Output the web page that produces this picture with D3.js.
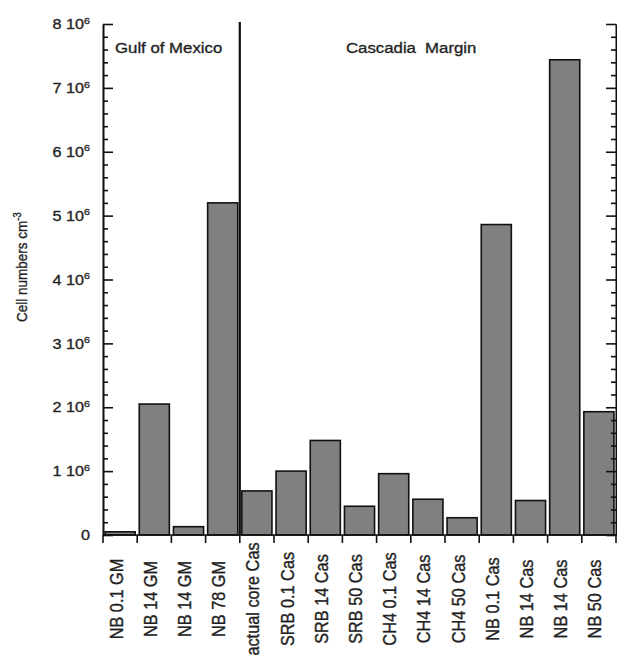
<!DOCTYPE html>
<html>
<head>
<meta charset="utf-8">
<script src="https://cdn.jsdelivr.net/npm/d3@7"></script>
<style>
  html, body { margin: 0; padding: 0; background: #fff; }
  svg { display: block; }
  text { stroke: #2a2a2a; stroke-width: 0.35px; }
</style>
</head>
<body>
<script>
const categories = ["NB 0.1 GM","NB 14 GM","NB 14 GM","NB 78 GM","actual core Cas","SRB 0.1 Cas","SRB 14 Cas","SRB 50 Cas","CH4 0.1 Cas","CH4 14 Cas","CH4 50 Cas","NB 0.1 Cas","NB 14 Cas","NB 14 Cas","NB 50 Cas"];
const values = [0.05e6, 2.05e6, 0.13e6, 5.2e6, 0.69e6, 1.0e6, 1.48e6, 0.45e6, 0.96e6, 0.56e6, 0.27e6, 4.86e6, 0.54e6, 7.44e6, 1.93e6];
const groups = ["Gulf of Mexico", "Cascadia Margin"];
const groupSplit = 4; // index of first Cascadia category
const majorTicks = [0, 1e6, 2e6, 3e6, 4e6, 5e6, 6e6, 7e6, 8e6];
const yTitle = "Cell numbers cm";
const yTitleSup = "-3";

const W = 617, H = 660;
const mLeft = 103, mRight = 616, mTop = 24, mBottom = 535;
const SX = 1.12; // horizontal stretch of the original figure's lettering
const FONT = "Liberation Sans, Arial, Helvetica, sans-serif";
const INK = "#1e1e1e";

const svg = d3.select("body").append("svg").attr("width", W).attr("height", H);

const idx = d3.range(categories.length);
const x = d3.scaleBand().domain(idx).range([mLeft, mRight]).paddingInner(0.12).paddingOuter(0.06);
const step = x.step();
const boundary = i => mLeft + i * step;
const y = d3.scaleLinear().domain([0, 8e6]).range([mBottom, mTop]);

const minorTicks = d3.range(0, 8e6 + 1, 2e5).filter(v => Math.round(v / 2e5) % 5 !== 0);

// bars
svg.append("g").selectAll("rect").data(idx).join("rect")
  .attr("x", i => x(i))
  .attr("y", i => y(values[i]))
  .attr("width", x.bandwidth())
  .attr("height", i => y(0) - y(values[i]))
  .attr("fill", "#808080")
  .attr("stroke", "#111")
  .attr("stroke-width", 1.6);

// y axes (left & right) with inward ticks
function styleAxis(g) {
  g.selectAll("path,line").attr("stroke", "#111").attr("stroke-width", 1.6);
  g.selectAll("text").remove();
}
svg.append("g").attr("transform", `translate(${mLeft},0)`)
  .call(d3.axisLeft(y).tickValues(majorTicks).tickSizeInner(-10).tickSizeOuter(0))
  .call(styleAxis);
svg.append("g").attr("transform", `translate(${mLeft},0)`)
  .call(d3.axisLeft(y).tickValues(minorTicks).tickSizeInner(-5).tickSizeOuter(0))
  .call(styleAxis);
svg.append("g").attr("transform", `translate(${mRight},0)`)
  .call(d3.axisRight(y).tickValues(majorTicks).tickSizeInner(-10).tickSizeOuter(0))
  .call(styleAxis);
svg.append("g").attr("transform", `translate(${mRight},0)`)
  .call(d3.axisRight(y).tickValues(minorTicks).tickSizeInner(-5).tickSizeOuter(0))
  .call(styleAxis);

// y tick labels
const lab = svg.append("g").attr("font-family", FONT).attr("font-size", 14.5).attr("fill", INK);
majorTicks.forEach(v => {
  const t = lab.append("text")
    .attr("transform", `translate(90,${y(v) + 5.2}) scale(${SX},1)`)
    .attr("text-anchor", "end");
  if (v === 0) { t.text("0"); }
  else {
    t.append("tspan").text(`${v / 1e6} 10`);
    t.append("tspan").attr("font-size", 9.5).attr("dy", -5.5).text("6");
  }
});

// x axis line and boundary ticks
svg.append("line").attr("x1", mLeft).attr("x2", mRight).attr("y1", mBottom).attr("y2", mBottom)
  .attr("stroke", "#111").attr("stroke-width", 1.6);
svg.append("g").selectAll("line").data(d3.range(categories.length + 1)).join("line")
  .attr("x1", i => boundary(i)).attr("x2", i => boundary(i))
  .attr("y1", mBottom).attr("y2", mBottom + 8)
  .attr("stroke", "#111").attr("stroke-width", 1.6);

// x labels (rotated)
svg.append("g").attr("font-family", FONT).attr("font-size", 16.3).attr("fill", INK)
  .selectAll("text").data(idx).join("text")
  .attr("transform", i => `translate(${x(i) + x.bandwidth() / 2 + 2.5},599) scale(${SX},1) rotate(-90)`)
  .attr("text-anchor", "middle")
  .text(i => categories[i]);

// separator
svg.append("line").attr("x1", boundary(groupSplit)).attr("x2", boundary(groupSplit))
  .attr("y1", 22).attr("y2", mBottom).attr("stroke", "#111").attr("stroke-width", 2.2);

// group titles
svg.append("text").attr("transform", `translate(115,52.5) scale(${SX},1)`).attr("font-family", FONT)
  .attr("font-size", 15).attr("fill", INK).text(groups[0]);
svg.append("text").attr("transform", `translate(346,52.5) scale(${SX},1)`).attr("font-family", FONT)
  .attr("font-size", 15).attr("fill", INK).attr("word-spacing", 4).text(groups[1]);

// y title
const yt = svg.append("text")
  .attr("transform", `translate(27,322) scale(${SX},1) rotate(-90)`)
  .attr("font-family", FONT).attr("font-size", 13.5).attr("fill", INK);
yt.append("tspan").text(yTitle);
yt.append("tspan").attr("font-size", 9.5).attr("dy", -5.5).text(yTitleSup);
</script>
</body>
</html>
